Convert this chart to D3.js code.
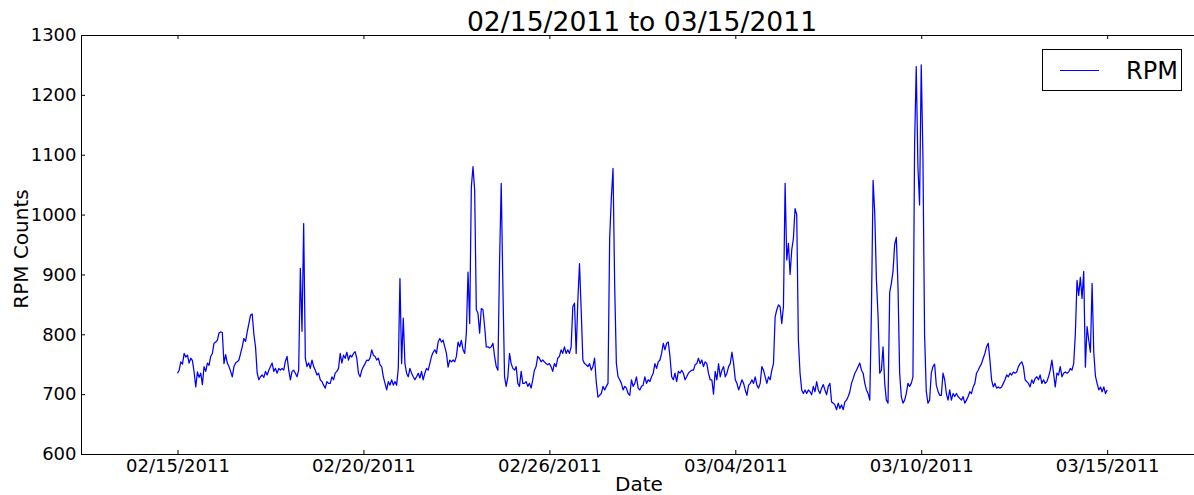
<!DOCTYPE html>
<html>
<head>
<meta charset="utf-8">
<script src="https://cdn.jsdelivr.net/npm/d3@7"></script>
<style>
  html, body { margin: 0; padding: 0; background: #fff; }
  svg { display: block; font-family: "DejaVu Sans", sans-serif; }
</style>
</head>
<body>
<svg id="chart" width="1194" height="495"></svg>
<script>
// Tick positions (sample number) and the date shown at each
const tickSamples = [0, 1000, 2000, 3000, 4000, 5000];
const tickDates = ["02/15/2011", "02/20/2011", "02/26/2011", "03/04/2011", "03/10/2011", "03/15/2011"];
const yTicks = [600, 700, 800, 900, 1000, 1100, 1200, 1300];

// RPM readings, one array per tick interval (evenly spaced samples)
const rpmFeb15 = [
  735,740,754,750,768,762,765,752,760,756,
  737,712,737,728,735,716,746,738,752,748,
  763,768,785,787,790,802,804,803,751,766,
  752,746,738,729,746,752,754,757,768,779,
  793,788,804,818,832,834,800,779,735,724,
  729,732,728,738,732,740,746,752,738,743,
  735,743,740,743,740,755,763,740,724,738,
  740,735,729,740,910,805,985,760,746,752,
  743,757,746,740,732,735,724,721,715,710,
  721,718,
  718,729,724,735,738,743,768,752,765,760,
  770,757,765,762,768,771,760,735,729,740
];
const rpmFeb20 = [
  746,751,757,756,760,774,765,763,757,760,
  749,746,729,718,707,721,715,724,715,721,
  715,743,893,751,827,751,735,729,743,735,
  729,724,729,735,727,738,724,735,743,740,
  751,763,770,774,768,787,793,787,790,779,
  768,745,757,754,757,754,763,787,779,790,
  774,768,802,904,818,1046,1080,1041,841,835,
  802,
  843,841,813,779,779,777,779,785,763,746,
  740,920,1052,880,729,713,729,768,751,743,
  740,746,718,713,738,718,718,721,713,718,
  710,724,740,746,763,760,754,757,754,751,
  749
];
const rpmFeb26 = [
  751,746,738,751,746,760,763,774,768,779,
  768,774,768,779,846,852,768,857,918,840,
  757,751,749,746,751,740,746,760,720,695,
  698,701,713,707,713,718,960,1028,1077,880,
  751,729,724,718,707,713,710,701,698,
  724,713,718,729,710,707,713,715,729,
  718,724,721,729,735,751,743,754,757,768,
  785,774,785,787,763,729,724,735,721,738,
  735,740,735,724,729,735,738,740,740,749,
  751,760,751,757,746,754,751,735,724,724,
  700,738,724,751,729,740,746,729,735,746,
  751,770,751
];
const rpmMar04 = [
  724,718,707,715,724,718,707,698,715,718,
  724,718,729,715,710,718,746,740,729,718,
  729,724,740,751,829,841,849,846,
  818,846,1052,924,952,900,941,960,1010,1000,
  790,735,707,701,707,701,707,704,699,713,
  704,721,707,701,710,716,707,699,713,718,
  687,685,682,674,685,676,682,674,687,690,
  696,704,718,726,735,740,746,752,740,735,
  718,707,701,690,840,1057,1002,891,830,735,
  740,779,718,690,685,870,885,905,950,962,
  880,735,696,685,690,701,718,713,718,729,
  1117,1247,1080,1016
];
const rpmMar10 = [
  1250,1100,800,705,685,690,735,746,750,715,705,698,
  698,735,724,701,690,707,690,701,696,701,
  696,693,690,696,685,690,696,704,701,712,
  718,735,740,746,751,760,768,779,785,757,
  724,712,718,710,712,710,712,718,724,732,
  729,735,732,737,735,737,746,751,754,746,
  724,721,718,712,724,718,726,729,724,732,
  718,724,718,721,729,740,757,735,712,735,
  732,746,729,735,737,735,737,743,740,751,
  800,890,865,895,860,905,745,813,790,770,
  885,770,730,718,707,712,704,712,701,707
];

const segments = [rpmFeb15, rpmFeb20, rpmFeb26, rpmMar04, rpmMar10];
const series = [];
segments.forEach((vals, k) => {
  const last = k === segments.length - 1;
  const step = 1000 / (last ? vals.length - 1 : vals.length);
  vals.forEach((v, i) => series.push({ sample: tickSamples[k] + i * step, rpm: v }));
});

const svg = d3.select("#chart");
const plotLeft = 81, plotRight = 1194, plotTop = 35, plotBottom = 454;

const x = d3.scaleLinear().domain([-519, 5467]).range([plotLeft, plotRight]);
const y = d3.scaleLinear().domain([600, 1300]).range([plotBottom, plotTop]);

// Axes with inward ticks
const xAxis = d3.axisBottom(x)
  .tickValues(tickSamples)
  .tickFormat((d, i) => tickDates[i])
  .tickSizeInner(-4).tickSizeOuter(0).tickPadding(5);
const xAxisTop = d3.axisTop(x)
  .tickValues(tickSamples).tickFormat("")
  .tickSizeInner(-4).tickSizeOuter(0);
const yAxis = d3.axisLeft(y)
  .tickValues(yTicks).tickFormat(d3.format("d"))
  .tickSizeInner(-4).tickSizeOuter(0).tickPadding(4.5);

const gx = svg.append("g").attr("transform", `translate(0,${plotBottom})`).call(xAxis);
const gxt = svg.append("g").attr("transform", `translate(0,${plotTop})`).call(xAxisTop);
const gy = svg.append("g").attr("transform", `translate(${plotLeft},0)`).call(yAxis);

[gx, gxt, gy].forEach(g => {
  g.select(".domain").remove();
  g.selectAll(".tick line").attr("stroke", "#000").attr("stroke-width", 1);
  g.selectAll(".tick text")
    .attr("fill", "#000")
    .style("font-family", "DejaVu Sans")
    .style("font-size", "18px");
});

// Data line
const line = d3.line().x(d => x(d.sample)).y(d => y(d.rpm));
svg.append("path")
  .datum(series)
  .attr("fill", "none")
  .attr("stroke", "#0000ff")
  .attr("stroke-width", 1.25)
  .attr("stroke-linejoin", "round")
  .attr("d", line);

// Axes frame
svg.append("path")
  .attr("d", `M${plotRight},${plotTop + 0.5}H${plotLeft + 0.5}V${plotBottom + 0.5}H${plotRight}`)
  .attr("fill", "none")
  .attr("stroke", "#000")
  .attr("stroke-width", 1);

// Title and axis labels
svg.append("text")
  .attr("x", 642).attr("y", 31)
  .attr("text-anchor", "middle")
  .style("font-size", "26.6px")
  .text("02/15/2011 to 03/15/2011");

svg.append("text")
  .attr("x", 639).attr("y", 491)
  .attr("text-anchor", "middle")
  .style("font-size", "20px")
  .text("Date");

svg.append("text")
  .attr("transform", "translate(28,249) rotate(-90)")
  .attr("text-anchor", "middle")
  .style("font-size", "20px")
  .text("RPM Counts");

// Legend
const legend = svg.append("g");
legend.append("rect")
  .attr("x", 1042.5).attr("y", 49.5).attr("width", 139).attr("height", 41)
  .attr("fill", "#fff").attr("stroke", "#000").attr("stroke-width", 1);
legend.append("line")
  .attr("x1", 1060).attr("x2", 1099).attr("y1", 70.5).attr("y2", 70.5)
  .attr("stroke", "#0000ff").attr("stroke-width", 1);
legend.append("text")
  .attr("x", 1126).attr("y", 78.5)
  .style("font-size", "24px")
  .text("RPM");
</script>
</body>
</html>
